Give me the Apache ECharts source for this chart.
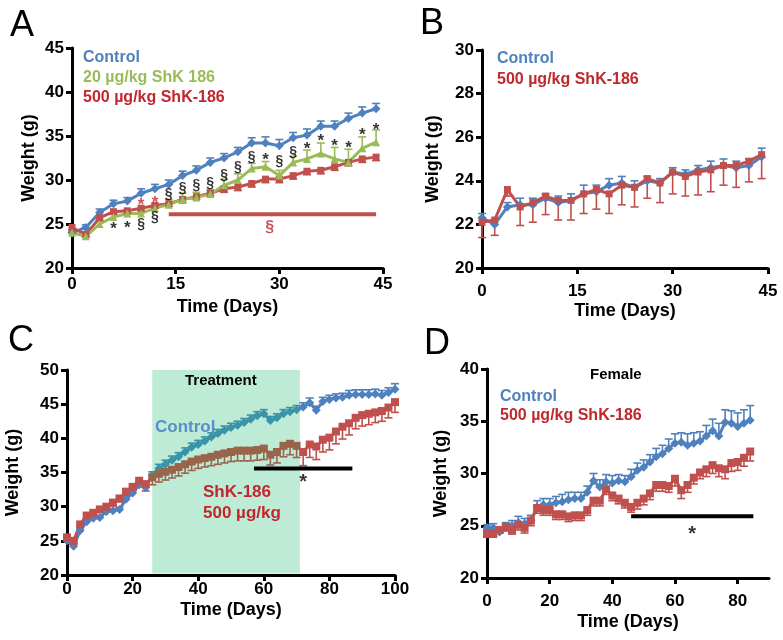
<!DOCTYPE html>
<html>
<head>
<meta charset="utf-8">
<title>Body weight - ShK-186</title>
<script src="https://cdn.jsdelivr.net/npm/echarts@6/dist/echarts.min.js"></script>
<style>
    html, body { margin: 0; padding: 0; background: #fff; }
    #weight_chart { width: 783px; height: 640px; }
</style>
</head>
<body>
<div id="weight_chart"></div>
<script>

// Data
// ------------------------------

// Panel A - males, three groups
var daysA = [0, 2, 4, 6, 8, 10, 12, 14, 16, 18, 20, 22, 24, 26, 28, 30, 32, 34, 36, 38, 40, 42, 44];
var controlA = [24.0, 24.6, 26.3, 27.3, 27.6, 28.5, 29.0, 29.5, 30.5, 31.1, 32.0, 32.5, 33.2, 34.2, 34.2, 33.9, 34.8, 35.1, 36.1, 36.1, 37.0, 37.6, 38.1];
var controlA_err = [0.3, 0.3, 0.4, 0.4, 0.4, 0.5, 0.5, 0.5, 0.5, 0.5, 0.5, 0.5, 0.5, 0.6, 0.7, 0.7, 0.6, 0.7, 0.6, 0.6, 0.6, 0.7, 0.6];
var shk20A = [24.0, 23.6, 25.0, 25.8, 26.2, 26.2, 26.8, 27.2, 27.8, 28.0, 28.4, 29.4, 30.0, 31.3, 31.5, 30.5, 32.0, 32.4, 33.0, 32.4, 32.0, 33.6, 34.3];
var shk20A_err = [0.2, 0.2, 0.4, 0.4, 0.4, 0.5, 0.5, 0.6, 0.7, 0.6, 0.5, 0.7, 0.7, 0.6, 0.6, 0.6, 0.7, 1.0, 1.2, 1.3, 1.5, 1.3, 1.4];
var shk500A = [24.6, 23.8, 25.7, 26.4, 26.5, 26.8, 27.1, 27.3, 27.8, 28.1, 28.5, 29.0, 29.2, 29.6, 30.1, 30.1, 30.5, 31.0, 31.1, 31.5, 32.0, 32.4, 32.6];
var shk500A_err = [0.3, 0.3, 0.3, 0.3, 0.3, 0.3, 0.3, 0.3, 0.4, 0.3, 0.3, 0.4, 0.4, 0.4, 0.4, 0.4, 0.4, 0.4, 0.4, 0.4, 0.4, 0.4, 0.4];
var starsA = [[6, 24.8], [8, 25.0], [28, 32.7], [34, 33.9], [36, 34.8], [38, 34.3], [40, 34.1], [42, 35.5], [44, 36.1]];
var sectionsA = [[10, 25.1], [12, 25.9], [14, 28.5], [16, 29.2], [18, 29.5], [20, 29.8], [22, 30.7], [24, 31.6], [26, 32.7], [30, 32.2], [32, 33.3]];
var redStarsA = [[10, 27.6], [12, 27.8]];
var sigBarA = [[14, 26.1], [44, 26.1]];
var sigLabelA = [[28.6, 24.7]];

// Panel B
var daysB = [0, 2, 4, 6, 8, 10, 12, 14, 16, 18, 20, 22, 24, 26, 28, 30, 32, 34, 36, 38, 40, 42, 44];
var controlB = [22.3, 22.0, 22.8, 22.9, 22.9, 23.2, 23.0, 23.1, 23.4, 23.5, 23.8, 23.9, 23.7, 24.0, 23.9, 24.4, 24.3, 24.5, 24.6, 24.7, 24.6, 24.7, 25.1];
var controlB_err = [0.2, 0.2, 0.2, 0.3, 0.3, 0.2, 0.3, 0.3, 0.4, 0.3, 0.3, 0.3, 0.3, 0.2, 0.2, 0.2, 0.2, 0.2, 0.3, 0.3, 0.3, 0.3, 0.4];
var shk500B = [22.1, 22.2, 23.6, 22.8, 23.0, 23.3, 23.1, 23.1, 23.4, 23.6, 23.4, 23.8, 23.7, 24.1, 23.9, 24.4, 24.2, 24.4, 24.5, 24.7, 24.7, 24.9, 25.2];
var shk500B_err = [0.7, 0.7, 0.3, 0.85, 0.9, 0.85, 0.9, 0.9, 0.9, 0.9, 0.9, 0.9, 0.9, 0.9, 0.9, 1.0, 0.9, 1.05, 1.0, 0.9, 1.0, 0.95, 1.1];

// Panel C
var daysC = [0, 2, 4, 6, 8, 10, 12, 14, 16, 18, 20, 22, 24, 26, 28, 30, 32, 34, 36, 38, 40, 42, 44, 46, 48, 50, 52, 54, 56, 58, 60, 62, 64, 66, 68, 70, 72, 74, 76, 78, 80, 82, 84, 86, 88, 90, 92, 94, 96, 98, 100];
var controlC = [25.0, 24.2, 26.5, 27.8, 28.3, 28.4, 29.3, 29.4, 29.6, 31.1, 32.0, 33.2, 32.8, 34.6, 35.6, 36.2, 36.8, 37.3, 38.0, 38.7, 39.1, 39.6, 40.2, 40.7, 41.2, 41.6, 41.9, 42.3, 42.8, 43.3, 43.6, 42.6, 43.0, 43.6, 43.9, 44.2, 44.6, 45.2, 44.1, 45.4, 45.7, 45.9, 46.0, 46.3, 46.4, 46.4, 46.4, 46.5, 46.3, 46.7, 47.2];
var controlC_err = [0.3, 0.3, 0.3, 0.3, 0.3, 0.3, 0.3, 0.3, 0.3, 0.4, 0.4, 0.5, 0.5, 0.5, 0.6, 0.6, 0.6, 0.6, 0.6, 0.6, 0.6, 0.6, 0.6, 0.6, 0.6, 0.6, 0.6, 0.6, 0.6, 0.6, 0.6, 0.6, 0.6, 0.6, 0.6, 0.6, 0.6, 0.7, 0.6, 0.6, 0.6, 0.6, 0.6, 0.7, 0.7, 0.7, 0.7, 0.7, 0.7, 0.7, 0.8];
var shk500C = [25.5, 25.0, 27.4, 28.7, 29.1, 29.6, 30.0, 30.6, 31.2, 32.2, 32.9, 33.8, 33.3, 34.3, 34.8, 35.1, 35.4, 35.8, 36.2, 36.6, 36.9, 37.1, 37.3, 37.6, 37.8, 38.0, 38.2, 38.2, 38.2, 38.3, 38.5, 37.6, 38.0, 38.9, 39.2, 38.9, 38.0, 39.1, 38.8, 39.8, 40.1, 41.0, 41.7, 42.2, 43.0, 43.4, 43.6, 43.8, 44.0, 44.5, 45.3];
var shk500C_err = [0.3, 0.3, 0.4, 0.4, 0.4, 0.4, 0.5, 0.5, 0.5, 0.6, 0.6, 0.8, 1.0, 1.1, 1.2, 1.2, 1.2, 1.3, 1.3, 1.3, 1.3, 1.3, 1.3, 1.4, 1.4, 1.4, 1.5, 1.5, 1.5, 1.5, 1.6, 1.5, 1.6, 1.6, 1.6, 1.7, 2.0, 1.9, 1.9, 1.8, 1.8, 1.8, 1.8, 1.7, 1.6, 1.6, 1.6, 1.5, 1.5, 1.5, 1.5];
var treatmentC = [26, 71];
var sigBarC = [[57, 35.6], [87, 35.6]];
var starC = [[72, 34.3]];

// Panel D - females
var daysD = [0, 2, 4, 6, 8, 10, 12, 14, 16, 18, 20, 22, 24, 26, 28, 30, 32, 34, 36, 38, 40, 42, 44, 46, 48, 50, 52, 54, 56, 58, 60, 62, 64, 66, 68, 70, 72, 74, 76, 78, 80, 82, 84];
var controlD = [24.8, 24.8, 24.4, 24.8, 25.0, 25.3, 25.2, 25.5, 26.8, 27.0, 27.0, 27.2, 27.3, 27.5, 27.6, 27.6, 28.2, 29.3, 28.7, 29.2, 29.1, 29.3, 29.2, 29.7, 30.3, 30.6, 31.1, 31.6, 31.9, 32.4, 32.9, 33.0, 32.7, 32.9, 33.1, 33.6, 34.1, 33.6, 34.9, 34.8, 34.5, 34.8, 35.1];
var controlD_err = [0.3, 0.4, 0.3, 0.5, 0.5, 0.6, 0.5, 0.5, 0.6, 0.6, 0.6, 0.6, 0.7, 0.7, 0.6, 0.6, 0.6, 0.7, 0.7, 0.7, 0.7, 0.6, 0.6, 0.7, 0.7, 0.7, 0.7, 0.8, 0.8, 0.9, 0.9, 0.9, 1.1, 1.0, 0.9, 1.0, 1.1, 1.2, 1.2, 1.2, 1.3, 1.3, 1.4];
var shk500D = [24.3, 24.3, 24.6, 24.9, 24.6, 25.1, 24.8, 25.5, 26.7, 26.5, 26.5, 26.1, 26.1, 25.9, 26.0, 26.0, 26.5, 27.4, 27.4, 28.5, 27.9, 27.6, 27.2, 26.8, 27.2, 27.6, 28.1, 28.9, 28.9, 28.8, 29.5, 28.4, 28.9, 29.6, 30.1, 30.4, 30.8, 30.5, 30.4, 31.0, 31.1, 31.5, 32.1];
var shk500D_err = [0.4, 0.4, 0.3, 0.4, 0.4, 0.5, 0.5, 0.5, 0.5, 0.5, 0.5, 0.5, 0.5, 0.5, 0.5, 0.5, 0.5, 0.5, 0.5, 0.5, 0.5, 0.5, 0.5, 0.5, 0.6, 0.6, 0.6, 0.6, 0.6, 0.6, 0.7, 0.8, 0.7, 0.6, 0.6, 0.7, 0.8, 0.8, 0.9, 0.8, 0.8, 0.8, 0.9];
var sigBarD = [[46, 25.9], [85, 25.9]];
var starD = [[65.5, 24.6]];

// Axis ranges [min, max, interval]
var xRangeA = [0, 45, 15], yRangeA = [20, 45, 5];
var xRangeB = [0, 45, 15], yRangeB = [20, 30, 2];
var xRangeC = [0, 100, 20], yRangeC = [20, 50, 5];
var xRangeD = [0, 90, 20], yRangeD = [20, 40, 5];
var xTicksD = [0, 20, 40, 60, 80];


// Setup module
// ------------------------------

var WeightCurves = function() {

    var FONT = 'Arial, "Liberation Sans", sans-serif';
    var BLUE = '#4f81bd';
    var RED = '#c0504d';
    var GREEN = '#9bbb59';
    var RED_TEXT = '#c0282d';

    // Colours of the curves where the green treatment window lies over them
    var BLUE_IN_BAND = '#3a93a9';
    var RED_IN_BAND = '#9a644b';

    var pairs = function(xs, ys) {
        return xs.map(function(x, i) { return [x, ys[i]]; });
    };

    var inBand = function(x) {
        return x >= treatmentC[0] && x <= treatmentC[1];
    };

    // Data line with markers
    var lineSeries = function(idx, xs, ys, color, symbol, size, useVisual) {
        return {
            type: 'line',
            xAxisIndex: idx,
            yAxisIndex: idx,
            data: pairs(xs, ys),
            symbol: symbol,
            symbolSize: size,
            showAllSymbol: true,
            color: color,
            lineStyle: useVisual ? { width: 3 } : { color: color, width: 3 },
            itemStyle: { borderWidth: 0 },
            silent: true,
            z: 3
        };
    };

    // One-sided error bars (dir = 1 up, -1 down)
    var errorSeries = function(idx, xs, ys, errs, dir, color, bandColor) {
        return {
            type: 'custom',
            xAxisIndex: idx,
            yAxisIndex: idx,
            silent: true,
            z: 2,
            encode: { x: 0, y: [1, 2] },
            data: xs.map(function(x, i) { return [x, ys[i], ys[i] + dir * errs[i]]; }),
            renderItem: function(params, api) {
                var x = api.value(0);
                var p0 = api.coord([x, api.value(1)]);
                var p1 = api.coord([x, api.value(2)]);
                var c = (bandColor && inBand(x)) ? bandColor : color;
                var st = { stroke: c, lineWidth: 1.6 };
                return {
                    type: 'group',
                    children: [
                        { type: 'line', shape: { x1: p0[0], y1: p0[1], x2: p1[0], y2: p1[1] }, style: st },
                        { type: 'line', shape: { x1: p1[0] - 4, y1: p1[1], x2: p1[0] + 4, y2: p1[1] }, style: st }
                    ]
                };
            }
        };
    };

    // Text marks (*, §) placed in data space; dy re-centres the glyph on the point
    var textSeries = function(idx, points, text, color, size, dy) {
        return {
            type: 'scatter',
            xAxisIndex: idx,
            yAxisIndex: idx,
            silent: true,
            symbolSize: 1,
            itemStyle: { color: 'rgba(0,0,0,0)' },
            z: 6,
            data: points,
            label: {
                show: true,
                position: 'inside',
                offset: [0, dy || 0],
                formatter: text,
                color: color,
                fontFamily: FONT,
                fontWeight: 'bold',
                fontSize: size
            }
        };
    };

    // Significance bar
    var barSeries = function(idx, points, color) {
        return {
            type: 'line',
            xAxisIndex: idx,
            yAxisIndex: idx,
            data: points,
            symbol: 'none',
            silent: true,
            lineStyle: { color: color, width: 4 },
            z: 4
        };
    };

    var axisCommon = function(idx, range, labelMargin) {
        return {
            type: 'value',
            gridIndex: idx,
            min: range[0],
            max: range[1],
            interval: range[2],
            axisLine: { show: true, onZero: false, lineStyle: { color: '#000', width: 3 } },
            axisTick: { show: true, inside: false, length: 6, lineStyle: { color: '#000', width: 3 } },
            splitLine: { show: false },
            axisLabel: {
                color: '#000',
                fontFamily: FONT,
                fontWeight: 'bold',
                fontSize: 17,
                margin: labelMargin
            },
            nameLocation: 'middle',
            nameTextStyle: {
                color: '#000',
                fontFamily: FONT,
                fontWeight: 'bold',
                fontSize: 18
            }
        };
    };

    var xAxis = function(idx, range, labelMargin, nameGap) {
        var ax = axisCommon(idx, range, labelMargin);
        ax.name = 'Time (Days)';
        ax.nameGap = nameGap;
        return ax;
    };

    var yAxis = function(idx, range, nameGap) {
        var ax = axisCommon(idx, range, 8);
        ax.name = 'Weight (g)';
        ax.nameGap = nameGap;
        ax.nameRotate = 90;
        return ax;
    };

    var text = function(x, y, str, color, size, weight, align) {
        return {
            type: 'text',
            left: x,
            top: y,
            z: 20,
            style: {
                text: str,
                fill: color,
                font: (weight || 'bold') + ' ' + size + 'px ' + FONT,
                textAlign: align || 'left'
            }
        };
    };

    var _weightCharts = function() {
        if (typeof echarts == 'undefined') {
            console.warn('Warning - echarts.min.js is not loaded.');
            return;
        }

        var chart_element = document.getElementById('weight_chart');
        if (!chart_element) return;

        var chart = echarts.init(chart_element, null, { renderer: 'canvas' });

        // X axis of panel D has ticks only up to 80
        var xAxisD = xAxis(3, xRangeD, 15, 35);
        xAxisD.axisLabel.customValues = xTicksD;
        xAxisD.axisTick.customValues = xTicksD;

        var series = [
            // Panel A
            errorSeries(0, daysA, controlA, controlA_err, 1, BLUE),
            errorSeries(0, daysA, shk500A, shk500A_err, -1, RED),
            errorSeries(0, daysA, shk20A, shk20A_err, 1, GREEN),
            lineSeries(0, daysA, controlA, BLUE, 'diamond', 9),
            lineSeries(0, daysA, shk500A, RED, 'rect', 7),
            lineSeries(0, daysA, shk20A, GREEN, 'triangle', 8),
            barSeries(0, sigBarA, RED),
            textSeries(0, starsA, '*', '#000', 17, 4),
            textSeries(0, sectionsA, '\u00a7', '#000', 14, 1),
            textSeries(0, redStarsA, '*', RED_TEXT, 17, 4),
            textSeries(0, sigLabelA, '\u00a7', RED_TEXT, 16, 1),

            // Panel B
            errorSeries(1, daysB, controlB, controlB_err, 1, BLUE),
            errorSeries(1, daysB, shk500B, shk500B_err, -1, RED),
            lineSeries(1, daysB, controlB, BLUE, 'diamond', 9),
            lineSeries(1, daysB, shk500B, RED, 'rect', 7),

            // Panel C - treatment window under the curves
            {
                type: 'custom',
                xAxisIndex: 2,
                yAxisIndex: 2,
                silent: true,
                z: 1,
                encode: { x: [0, 1], y: 2 },
                data: [[treatmentC[0], treatmentC[1], yRangeC[0]]],
                renderItem: function(params, api) {
                    var a = api.coord([api.value(0), api.value(2)]);
                    var b = api.coord([api.value(1), api.value(2)]);
                    var cs = params.coordSys;
                    return {
                        type: 'rect',
                        shape: { x: a[0], y: cs.y, width: b[0] - a[0], height: cs.height - 1.5 },
                        style: { fill: '#bdebd6' }
                    };
                }
            },
            errorSeries(2, daysC, controlC, controlC_err, 1, BLUE, BLUE_IN_BAND),
            errorSeries(2, daysC, shk500C, shk500C_err, -1, RED, RED_IN_BAND)
        ];

        var blueC = series.length;
        series.push(lineSeries(2, daysC, controlC, BLUE, 'diamond', 9, true));
        var redC = series.length;
        series.push(lineSeries(2, daysC, shk500C, RED, 'rect', 8, true));

        series.push(
            barSeries(2, sigBarC, '#000'),
            textSeries(2, starC, '*', '#000', 20, 5),

            // Panel D
            errorSeries(3, daysD, controlD, controlD_err, 1, BLUE),
            errorSeries(3, daysD, shk500D, shk500D_err, -1, RED),
            lineSeries(3, daysD, controlD, BLUE, 'diamond', 9),
            lineSeries(3, daysD, shk500D, RED, 'rect', 8),
            barSeries(3, sigBarD, '#000'),
            textSeries(3, starD, '*', '#000', 20, 5)
        );

        chart.setOption({
            animation: false,
            backgroundColor: '#fff',

            // Setup grids
            grid: [
                { left: 72, top: 48, width: 311, height: 220 },
                { left: 482, top: 50, width: 286, height: 218 },
                { left: 67, top: 370, width: 328, height: 205 },
                { left: 487, top: 369, width: 282, height: 209 }
            ],

            xAxis: [
                xAxis(0, xRangeA, 8, 30),
                xAxis(1, xRangeB, 15, 34),
                xAxis(2, xRangeC, 6, 26),
                xAxisD
            ],

            yAxis: [
                yAxis(0, yRangeA, 34),
                yAxis(1, yRangeB, 40),
                yAxis(2, yRangeC, 45),
                yAxis(3, yRangeD, 37)
            ],

            // Curve colours inside the treatment window of panel C
            visualMap: [
                {
                    type: 'piecewise', show: false, seriesIndex: blueC, dimension: 0,
                    pieces: [
                        { lt: treatmentC[0], color: BLUE },
                        { gte: treatmentC[0], lte: treatmentC[1], color: BLUE_IN_BAND },
                        { gt: treatmentC[1], color: BLUE }
                    ]
                },
                {
                    type: 'piecewise', show: false, seriesIndex: redC, dimension: 0,
                    pieces: [
                        { lt: treatmentC[0], color: RED },
                        { gte: treatmentC[0], lte: treatmentC[1], color: RED_IN_BAND },
                        { gt: treatmentC[1], color: RED }
                    ]
                }
            ],

            // Panel letters, legends and notes
            graphic: [
                text(10, 8, 'A', '#000', 36, 'normal'),
                text(420, 6, 'B', '#000', 36, 'normal'),
                text(8, 323, 'C', '#000', 36, 'normal'),
                text(424, 326, 'D', '#000', 36, 'normal'),

                text(83, 50, 'Control', BLUE, 16),
                text(83, 70, '20 \u00b5g/kg ShK 186', GREEN, 16),
                text(83, 90, '500 \u00b5g/kg ShK-186', RED_TEXT, 16),

                text(497, 51, 'Control', BLUE, 16),
                text(497, 72, '500 \u00b5g/kg ShK-186', RED_TEXT, 16),

                text(185, 373, 'Treatment', '#000', 15),
                text(155, 419, 'Control', '#5b8dc9', 17),
                text(203, 484, 'ShK-186', RED_TEXT, 17, 'bold', 'center'),
                text(203, 505, '500 \u00b5g/kg', RED_TEXT, 17, 'bold', 'center'),

                text(590, 367, 'Female', '#000', 15),
                text(500, 389, 'Control', BLUE, 16),
                text(500, 408, '500 \u00b5g/kg ShK-186', RED_TEXT, 16)
            ],

            series: series
        });

        window.addEventListener('resize', function() {
            chart.resize();
        });
    };

    return {
        init: function() {
            _weightCharts();
        }
    };
}();


// Initialize module
// ------------------------------

document.addEventListener('DOMContentLoaded', function() {
    WeightCurves.init();
});
</script>
</body>
</html>
